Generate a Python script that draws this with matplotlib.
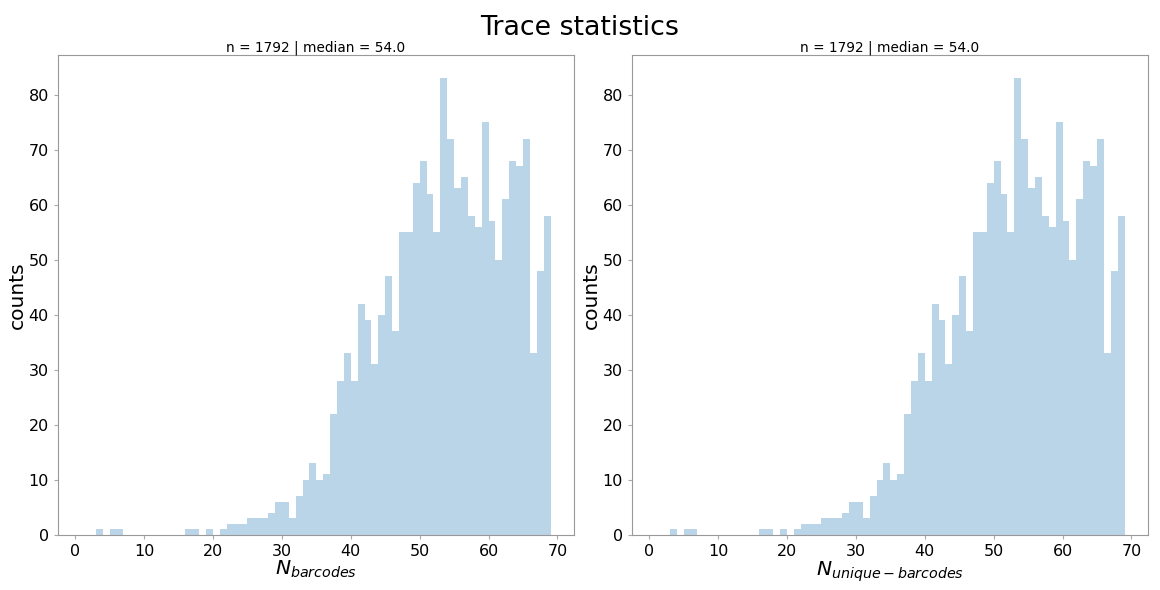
import numpy as np
import matplotlib
matplotlib.use("Agg")
import matplotlib.pyplot as plt

# histogram counts, one per unit-wide bin
bin_left = [3, 5, 6, 16, 17, 19, 21, 22, 23, 24, 25, 26, 27, 28, 29, 30, 31, 32,
            33, 34, 35, 36, 37, 38, 39, 40, 41, 42, 43, 44, 45, 46, 47, 48, 49,
            50, 51, 52, 53, 54, 55, 56, 57, 58, 59, 60, 61, 62, 63, 64, 65, 66,
            67, 68]
counts = [1, 1, 1, 1, 1, 1, 1, 2, 2, 2, 3, 3, 3, 4, 6, 6, 3, 7,
          10, 13, 10, 11, 22, 28, 33, 28, 42, 39, 31, 40, 47, 37, 55, 55, 64,
          68, 62, 55, 83, 72, 63, 65, 58, 56, 75, 57, 50, 61, 68, 67, 72, 33,
          48, 58]

panel_titles = ["n = 1792 | median = 54.0", "n = 1792 | median = 54.0"]
xlabels = [r"$N_{barcodes}$", r"$N_{unique-barcodes}$"]

fig = plt.figure(figsize=(11.6, 5.9), dpi=100)
fig.suptitle("Trace statistics", fontsize=19.3, y=0.975)

lefts = [58 / 1160, 632 / 1160]
for i in range(2):
    ax = fig.add_axes([lefts[i], 55 / 590, 516 / 1160, 480 / 590])
    ax.bar(bin_left, counts, width=1.0, align="edge", color="C0", alpha=0.3,
           linewidth=0)
    ax.set_xlim(-2.5, 72.4)
    ax.set_ylim(0, 87.2)
    ax.set_xticks(range(0, 71, 10))
    ax.set_yticks(range(0, 81, 10))
    ax.tick_params(labelsize=11.5, color="#aaaaaa", length=3)
    for s in ax.spines.values():
        s.set_color("#999999")
    ax.set_title(panel_titles[i], fontsize=9.8, pad=2)
    ax.set_xlabel(xlabels[i], fontsize=14.6, labelpad=0)
    ax.set_ylabel("counts", fontsize=14.6, labelpad=1)

fig.savefig("out.png", dpi=100)
